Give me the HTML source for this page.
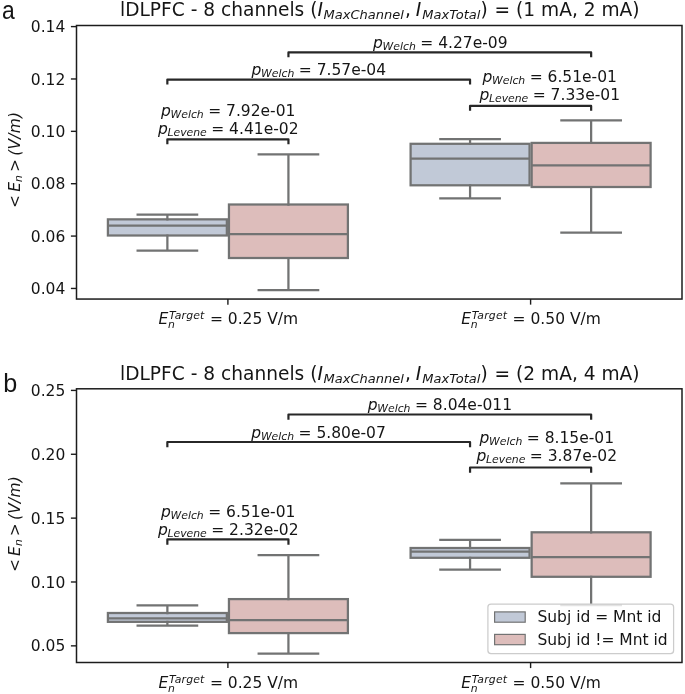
<!DOCTYPE html>
<html><head><meta charset="utf-8"><title>figure</title>
<style>
html,body{margin:0;padding:0;background:#fff;}
svg{display:block;font-family:"DejaVu Sans","Liberation Sans",sans-serif;fill:#151515;}
svg text{white-space:pre;}
</style></head><body>
<svg width="685" height="694" viewBox="0 0 685 694">
<rect width="685" height="694" fill="#ffffff" stroke="none"/>
<rect x="107.9" y="219.35" width="118.95" height="16.15" fill="#c1c9d7" stroke="#727373" stroke-width="2.25"/>
<path d="M107.9 225.5H226.85" stroke="#727373" stroke-width="2.25" fill="none"/>
<path d="M167.375 219.35V214.5M167.375 235.5V250.5M137.6375 214.5H197.1125M137.6375 250.5H197.1125" stroke="#727373" stroke-width="2.25" stroke-linecap="square" fill="none"/>
<rect x="228.95" y="204.5" width="118.95" height="53.50" fill="#ddbdbb" stroke="#727373" stroke-width="2.25"/>
<path d="M228.95 234.0H347.9" stroke="#727373" stroke-width="2.25" fill="none"/>
<path d="M288.42499999999995 204.5V154.3M288.42499999999995 258.0V290.0M258.68749999999994 154.3H318.16249999999997M258.68749999999994 290.0H318.16249999999997" stroke="#727373" stroke-width="2.25" stroke-linecap="square" fill="none"/>
<rect x="410.6" y="143.8" width="118.95" height="41.50" fill="#c1c9d7" stroke="#727373" stroke-width="2.25"/>
<path d="M410.6 158.5H529.55" stroke="#727373" stroke-width="2.25" fill="none"/>
<path d="M470.075 143.8V139.1M470.075 185.3V198.4M440.3375 139.1H499.8125M440.3375 198.4H499.8125" stroke="#727373" stroke-width="2.25" stroke-linecap="square" fill="none"/>
<rect x="531.65" y="142.9" width="118.95" height="44.10" fill="#ddbdbb" stroke="#727373" stroke-width="2.25"/>
<path d="M531.65 165.3H650.6" stroke="#727373" stroke-width="2.25" fill="none"/>
<path d="M591.125 142.9V120.4M591.125 187.0V232.5M561.3875 120.4H620.8625M561.3875 232.5H620.8625" stroke="#727373" stroke-width="2.25" stroke-linecap="square" fill="none"/>
<path d="M167.35 143.04999999999998V139.35H288.45V143.04999999999998" stroke="#272727" stroke-width="2.2" stroke-linecap="square" stroke-linejoin="round" fill="none"/>
<path d="M167.35 83.3V79.6H470.05V83.3" stroke="#272727" stroke-width="2.2" stroke-linecap="square" stroke-linejoin="round" fill="none"/>
<path d="M288.45 56.199999999999996V52.4H591.15V56.199999999999996" stroke="#272727" stroke-width="2.2" stroke-linecap="square" stroke-linejoin="round" fill="none"/>
<path d="M470.05 109.60000000000001V105.9H591.15V109.60000000000001" stroke="#272727" stroke-width="2.2" stroke-linecap="square" stroke-linejoin="round" fill="none"/>
<rect x="76.5" y="25.5" width="605.5" height="273.55" fill="none" stroke="#1c1c1c" stroke-width="1.5"/>
<path d="M70.9 288.45H76.5" stroke="#1c1c1c" stroke-width="1.4"/>
<text x="65.3" y="294.00" font-size="15.5" text-anchor="end">0.04</text>
<path d="M70.9 236.08H76.5" stroke="#1c1c1c" stroke-width="1.4"/>
<text x="65.3" y="241.63" font-size="15.5" text-anchor="end">0.06</text>
<path d="M70.9 183.71H76.5" stroke="#1c1c1c" stroke-width="1.4"/>
<text x="65.3" y="189.26" font-size="15.5" text-anchor="end">0.08</text>
<path d="M70.9 131.34H76.5" stroke="#1c1c1c" stroke-width="1.4"/>
<text x="65.3" y="136.89" font-size="15.5" text-anchor="end">0.10</text>
<path d="M70.9 78.97H76.5" stroke="#1c1c1c" stroke-width="1.4"/>
<text x="65.3" y="84.52" font-size="15.5" text-anchor="end">0.12</text>
<path d="M70.9 26.60H76.5" stroke="#1c1c1c" stroke-width="1.4"/>
<text x="65.3" y="32.15" font-size="15.5" text-anchor="end">0.14</text>
<path d="M227.9 299.05V304.65000000000003" stroke="#1c1c1c" stroke-width="1.4"/>
<text x="158.60000000000002" y="323.75" font-size="15.5"><tspan font-style="oblique">E</tspan><tspan font-style="oblique" font-size="10.85" dy="4.0" dx="-0.3">n</tspan><tspan font-style="oblique" font-size="10.85" dy="-9.2" dx="-6.0" letter-spacing="0.2">Target</tspan><tspan dy="5.2" dx="0.4"> = 0.25 V/m</tspan></text>
<path d="M530.6 299.05V304.65000000000003" stroke="#1c1c1c" stroke-width="1.4"/>
<text x="461.3" y="323.75" font-size="15.5"><tspan font-style="oblique">E</tspan><tspan font-style="oblique" font-size="10.85" dy="4.0" dx="-0.3">n</tspan><tspan font-style="oblique" font-size="10.85" dy="-9.2" dx="-6.0" letter-spacing="0.2">Target</tspan><tspan dy="5.2" dx="0.4"> = 0.50 V/m</tspan></text>
<text y="16.3" font-size="18.6"><tspan x="120.0">lDLPFC - 8 channels (</tspan><tspan x="317.6" font-style="oblique">I</tspan><tspan x="323.55" dy="2.9" font-style="oblique" font-size="13.02">MaxChannel</tspan><tspan x="405.0" dy="-2.9">,</tspan><tspan x="415.8" font-style="oblique">I</tspan><tspan x="422.3" dy="2.9" font-style="oblique" font-size="13.02" letter-spacing="0.04">MaxTotal</tspan><tspan x="480.5" dy="-2.9">)</tspan><tspan x="488.7"> = (1 mA, 2 mA)</tspan></text>
<text transform="translate(19.8 159.8) rotate(-90)" font-size="15.5" text-anchor="middle" font-style="oblique">&lt;<tspan dx="3.2">E</tspan><tspan font-size="10.85" dy="2.0">n</tspan><tspan dy="-2.0" dx="3.0">&gt;</tspan><tspan dx="3.3" letter-spacing="0.2">(V/m)</tspan></text>
<text transform="translate(1.9 19.3) scale(0.87 1)" font-size="26.3" font-family="Liberation Sans, sans-serif">a</text>
<text x="228.20000000000002" y="115.8" font-size="15.5" text-anchor="middle"><tspan font-style="oblique">p</tspan><tspan font-style="oblique" font-size="10.85" dy="2.0" dx="-0.3">Welch</tspan><tspan dy="-2.0" dx="-0.5"> = 7.92e-01</tspan></text>
<text x="228.20000000000002" y="133.5" font-size="15.5" text-anchor="middle"><tspan font-style="oblique">p</tspan><tspan font-style="oblique" font-size="10.85" dy="2.0" dx="-0.3">Levene</tspan><tspan dy="-2.0" dx="-0.5"> = 4.41e-02</tspan></text>
<text x="318.8" y="74.5" font-size="15.5" text-anchor="middle"><tspan font-style="oblique">p</tspan><tspan font-style="oblique" font-size="10.85" dy="2.0" dx="-0.3">Welch</tspan><tspan dy="-2.0" dx="-0.5"> = 7.57e-04</tspan></text>
<text x="440.3" y="47.5" font-size="15.5" text-anchor="middle"><tspan font-style="oblique">p</tspan><tspan font-style="oblique" font-size="10.85" dy="2.0" dx="-0.3">Welch</tspan><tspan dy="-2.0" dx="-0.5"> = 4.27e-09</tspan></text>
<text x="549.6999999999999" y="82.3" font-size="15.5" text-anchor="middle"><tspan font-style="oblique">p</tspan><tspan font-style="oblique" font-size="10.85" dy="2.0" dx="-0.3">Welch</tspan><tspan dy="-2.0" dx="-0.5"> = 6.51e-01</tspan></text>
<text x="549.6999999999999" y="100.0" font-size="15.5" text-anchor="middle"><tspan font-style="oblique">p</tspan><tspan font-style="oblique" font-size="10.85" dy="2.0" dx="-0.3">Levene</tspan><tspan dy="-2.0" dx="-0.5"> = 7.33e-01</tspan></text>
<rect x="107.9" y="613.0" width="118.95" height="8.85" fill="#c1c9d7" stroke="#727373" stroke-width="2.25"/>
<path d="M107.9 618.3H226.85" stroke="#727373" stroke-width="2.25" fill="none"/>
<path d="M167.375 613.0V605.3M167.375 621.85V625.5M137.6375 605.3H197.1125M137.6375 625.5H197.1125" stroke="#727373" stroke-width="2.25" stroke-linecap="square" fill="none"/>
<rect x="228.95" y="599.1" width="118.95" height="34.00" fill="#ddbdbb" stroke="#727373" stroke-width="2.25"/>
<path d="M228.95 620.1H347.9" stroke="#727373" stroke-width="2.25" fill="none"/>
<path d="M288.42499999999995 599.1V555.0M288.42499999999995 633.1V653.6M258.68749999999994 555.0H318.16249999999997M258.68749999999994 653.6H318.16249999999997" stroke="#727373" stroke-width="2.25" stroke-linecap="square" fill="none"/>
<rect x="410.6" y="548.0" width="118.95" height="9.80" fill="#c1c9d7" stroke="#727373" stroke-width="2.25"/>
<path d="M410.6 551.7H529.55" stroke="#727373" stroke-width="2.25" fill="none"/>
<path d="M470.075 548.0V539.8M470.075 557.8V569.5M440.3375 539.8H499.8125M440.3375 569.5H499.8125" stroke="#727373" stroke-width="2.25" stroke-linecap="square" fill="none"/>
<rect x="531.65" y="532.3" width="118.95" height="44.50" fill="#ddbdbb" stroke="#727373" stroke-width="2.25"/>
<path d="M531.65 557.0H650.6" stroke="#727373" stroke-width="2.25" fill="none"/>
<path d="M591.125 532.3V483.3M591.125 576.8V605.0M561.3875 483.3H620.8625M561.3875 605.0H620.8625" stroke="#727373" stroke-width="2.25" stroke-linecap="square" fill="none"/>
<path d="M167.35 543.6V539.4H288.45V543.6" stroke="#272727" stroke-width="2.2" stroke-linecap="square" stroke-linejoin="round" fill="none"/>
<path d="M167.35 446.2V442.0H470.05V446.2" stroke="#272727" stroke-width="2.2" stroke-linecap="square" stroke-linejoin="round" fill="none"/>
<path d="M288.45 418.7V414.5H591.15V418.7" stroke="#272727" stroke-width="2.2" stroke-linecap="square" stroke-linejoin="round" fill="none"/>
<path d="M470.05 471.7V467.5H591.15V471.7" stroke="#272727" stroke-width="2.2" stroke-linecap="square" stroke-linejoin="round" fill="none"/>
<rect x="76.5" y="388.8" width="605.5" height="273.7" fill="none" stroke="#1c1c1c" stroke-width="1.5"/>
<path d="M70.9 645.85H76.5" stroke="#1c1c1c" stroke-width="1.4"/>
<text x="65.3" y="651.40" font-size="15.5" text-anchor="end">0.05</text>
<path d="M70.9 581.99H76.5" stroke="#1c1c1c" stroke-width="1.4"/>
<text x="65.3" y="587.54" font-size="15.5" text-anchor="end">0.10</text>
<path d="M70.9 518.13H76.5" stroke="#1c1c1c" stroke-width="1.4"/>
<text x="65.3" y="523.68" font-size="15.5" text-anchor="end">0.15</text>
<path d="M70.9 454.27H76.5" stroke="#1c1c1c" stroke-width="1.4"/>
<text x="65.3" y="459.82" font-size="15.5" text-anchor="end">0.20</text>
<path d="M70.9 390.41H76.5" stroke="#1c1c1c" stroke-width="1.4"/>
<text x="65.3" y="395.96" font-size="15.5" text-anchor="end">0.25</text>
<path d="M227.9 662.5V668.1" stroke="#1c1c1c" stroke-width="1.4"/>
<text x="158.60000000000002" y="687.7" font-size="15.5"><tspan font-style="oblique">E</tspan><tspan font-style="oblique" font-size="10.85" dy="4.0" dx="-0.3">n</tspan><tspan font-style="oblique" font-size="10.85" dy="-9.2" dx="-6.0" letter-spacing="0.2">Target</tspan><tspan dy="5.2" dx="0.4"> = 0.25 V/m</tspan></text>
<path d="M530.6 662.5V668.1" stroke="#1c1c1c" stroke-width="1.4"/>
<text x="461.3" y="687.7" font-size="15.5"><tspan font-style="oblique">E</tspan><tspan font-style="oblique" font-size="10.85" dy="4.0" dx="-0.3">n</tspan><tspan font-style="oblique" font-size="10.85" dy="-9.2" dx="-6.0" letter-spacing="0.2">Target</tspan><tspan dy="5.2" dx="0.4"> = 0.50 V/m</tspan></text>
<text y="379.6" font-size="18.6"><tspan x="120.0">lDLPFC - 8 channels (</tspan><tspan x="317.6" font-style="oblique">I</tspan><tspan x="323.55" dy="2.9" font-style="oblique" font-size="13.02">MaxChannel</tspan><tspan x="405.0" dy="-2.9">,</tspan><tspan x="415.8" font-style="oblique">I</tspan><tspan x="422.3" dy="2.9" font-style="oblique" font-size="13.02" letter-spacing="0.04">MaxTotal</tspan><tspan x="480.5" dy="-2.9">)</tspan><tspan x="488.7"> = (2 mA, 4 mA)</tspan></text>
<text transform="translate(19.8 524) rotate(-90)" font-size="15.5" text-anchor="middle" font-style="oblique">&lt;<tspan dx="3.2">E</tspan><tspan font-size="10.85" dy="2.0">n</tspan><tspan dy="-2.0" dx="3.0">&gt;</tspan><tspan dx="3.3" letter-spacing="0.2">(V/m)</tspan></text>
<text transform="translate(3.3 391.9) scale(0.98 1)" font-size="25.7" font-family="Liberation Sans, sans-serif">b</text>
<text x="228.20000000000002" y="516.7" font-size="15.5" text-anchor="middle"><tspan font-style="oblique">p</tspan><tspan font-style="oblique" font-size="10.85" dy="2.0" dx="-0.3">Welch</tspan><tspan dy="-2.0" dx="-0.5"> = 6.51e-01</tspan></text>
<text x="228.20000000000002" y="534.8" font-size="15.5" text-anchor="middle"><tspan font-style="oblique">p</tspan><tspan font-style="oblique" font-size="10.85" dy="2.0" dx="-0.3">Levene</tspan><tspan dy="-2.0" dx="-0.5"> = 2.32e-02</tspan></text>
<text x="318.6" y="437.7" font-size="15.5" text-anchor="middle"><tspan font-style="oblique">p</tspan><tspan font-style="oblique" font-size="10.85" dy="2.0" dx="-0.3">Welch</tspan><tspan dy="-2.0" dx="-0.5"> = 5.80e-07</tspan></text>
<text x="439.90000000000003" y="409.6" font-size="15.5" text-anchor="middle"><tspan font-style="oblique">p</tspan><tspan font-style="oblique" font-size="10.85" dy="2.0" dx="-0.3">Welch</tspan><tspan dy="-2.0" dx="-0.5"> = 8.04e-011</tspan></text>
<text x="546.8" y="443.3" font-size="15.5" text-anchor="middle"><tspan font-style="oblique">p</tspan><tspan font-style="oblique" font-size="10.85" dy="2.0" dx="-0.3">Welch</tspan><tspan dy="-2.0" dx="-0.5"> = 8.15e-01</tspan></text>
<text x="546.8" y="460.8" font-size="15.5" text-anchor="middle"><tspan font-style="oblique">p</tspan><tspan font-style="oblique" font-size="10.85" dy="2.0" dx="-0.3">Levene</tspan><tspan dy="-2.0" dx="-0.5"> = 3.87e-02</tspan></text>
<rect x="487.9" y="604.0" width="185.7" height="49.6" rx="3.1" fill="#ffffff" fill-opacity="0.8" stroke="#cccccc" stroke-width="1.25"/>
<rect x="494.6" y="611.9" width="30.6" height="10.3" fill="#c1c9d7" stroke="#727373" stroke-width="1.2"/>
<rect x="494.6" y="634.4" width="30.6" height="10.3" fill="#ddbdbb" stroke="#727373" stroke-width="1.2"/>
<text x="537.4" y="622.1" font-size="15.5">Subj id = Mnt id</text>
<text x="537.4" y="644.9" font-size="15.5">Subj id != Mnt id</text>
</svg>
</body></html>
